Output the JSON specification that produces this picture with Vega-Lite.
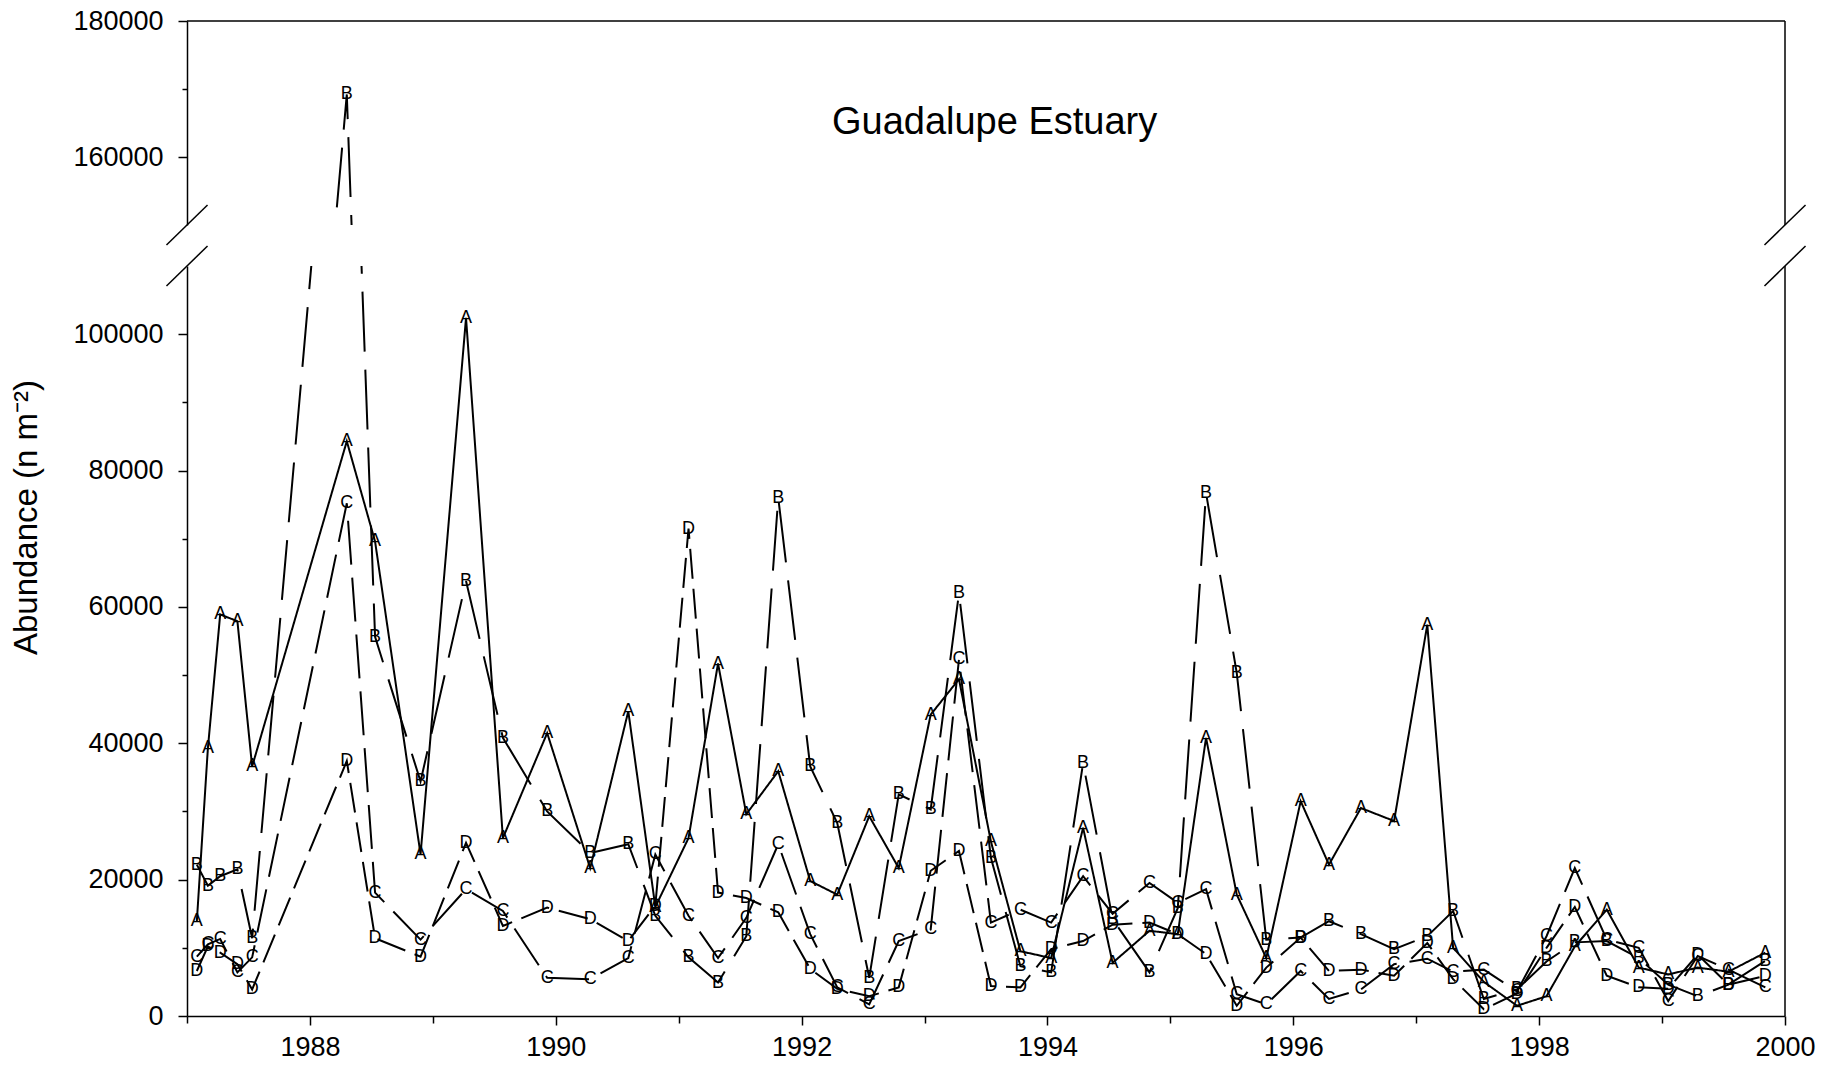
{
 "$schema": "https://vega.github.io/schema/vega-lite/v6.json",
 "background": "white",
 "padding": {"left": 10, "top": 7, "right": 5, "bottom": 5},
 "bounds": "flush",
 "spacing": 41,
 "config": {
  "view": {"stroke": null},
  "axis": {"domainColor": "black", "domainWidth": 1.5, "tickColor": "black", "tickWidth": 1.5, "labelFont": "Liberation Sans", "labelFontSize": 27, "labelColor": "black", "titleFont": "Liberation Sans", "titleFontSize": 33, "titleFontWeight": "normal", "titleColor": "black", "grid": false, "labelFlush": false, "labelOverlap": false}
 },
 "datasets": {
  "pts": [
   {"t":1987.08,"s":"A","v":13900},{"t":1987.17,"s":"A","v":39300},{"t":1987.27,"s":"A","v":58900},{"t":1987.41,"s":"A","v":57900},{"t":1987.53,"s":"A","v":36600},{"t":1988.30,"s":"A","v":84300},{"t":1988.53,"s":"A","v":69600},{"t":1988.90,"s":"A","v":23700},{"t":1989.27,"s":"A","v":102400},{"t":1989.57,"s":"A","v":26100},{"t":1989.93,"s":"A","v":41500},{"t":1990.28,"s":"A","v":21700},{"t":1990.59,"s":"A","v":44700},{"t":1990.81,"s":"A","v":16000},{"t":1991.08,"s":"A","v":26100},{"t":1991.32,"s":"A","v":51700},{"t":1991.55,"s":"A","v":29600},{"t":1991.81,"s":"A","v":35900},{"t":1992.07,"s":"A","v":19800},{"t":1992.29,"s":"A","v":17800},{"t":1992.55,"s":"A","v":29300},{"t":1992.79,"s":"A","v":21700},{"t":1993.05,"s":"A","v":44200},{"t":1993.28,"s":"A","v":49400},{"t":1993.54,"s":"A","v":25600},{"t":1993.78,"s":"A","v":9500},{"t":1994.03,"s":"A","v":8500},{"t":1994.29,"s":"A","v":27600},{"t":1994.53,"s":"A","v":7800},{"t":1994.83,"s":"A","v":12500},{"t":1995.06,"s":"A","v":12000},{"t":1995.29,"s":"A","v":40800},{"t":1995.54,"s":"A","v":17800},{"t":1995.78,"s":"A","v":8500},{"t":1996.06,"s":"A","v":31500},{"t":1996.29,"s":"A","v":22200},{"t":1996.55,"s":"A","v":30500},{"t":1996.82,"s":"A","v":28600},{"t":1997.09,"s":"A","v":57400},{"t":1997.30,"s":"A","v":10000},{"t":1997.55,"s":"A","v":5000},{"t":1997.82,"s":"A","v":1500},{"t":1998.06,"s":"A","v":2900},{"t":1998.29,"s":"A","v":10200},{"t":1998.55,"s":"A","v":15600},{"t":1998.81,"s":"A","v":7100},{"t":1999.05,"s":"A","v":6100},{"t":1999.29,"s":"A","v":7100},{"t":1999.54,"s":"A","v":6500},{"t":1999.84,"s":"A","v":9300},
   {"t":1987.08,"s":"B","v":22200},{"t":1987.17,"s":"B","v":19100},{"t":1987.27,"s":"B","v":20500},{"t":1987.41,"s":"B","v":21500},{"t":1987.53,"s":"B","v":11400},{"t":1988.30,"s":"B","v":169200},{"t":1988.53,"s":"B","v":55600},{"t":1988.90,"s":"B","v":34400},{"t":1989.27,"s":"B","v":63800},{"t":1989.57,"s":"B","v":40800},{"t":1989.93,"s":"B","v":30000},{"t":1990.28,"s":"B","v":23900},{"t":1990.59,"s":"B","v":25200},{"t":1990.81,"s":"B","v":14700},{"t":1991.08,"s":"B","v":8600},{"t":1991.32,"s":"B","v":4900},{"t":1991.55,"s":"B","v":11700},{"t":1991.81,"s":"B","v":76000},{"t":1992.07,"s":"B","v":36600},{"t":1992.29,"s":"B","v":28300},{"t":1992.55,"s":"B","v":5600},{"t":1992.79,"s":"B","v":32500},{"t":1993.05,"s":"B","v":30300},{"t":1993.28,"s":"B","v":62000},{"t":1993.54,"s":"B","v":23200},{"t":1993.78,"s":"B","v":7300},{"t":1994.03,"s":"B","v":6400},{"t":1994.29,"s":"B","v":37100},{"t":1994.53,"s":"B","v":14200},{"t":1994.83,"s":"B","v":6400},{"t":1995.06,"s":"B","v":15800},{"t":1995.29,"s":"B","v":76700},{"t":1995.54,"s":"B","v":50300},{"t":1995.78,"s":"B","v":11200},{"t":1996.06,"s":"B","v":11500},{"t":1996.29,"s":"B","v":13900},{"t":1996.55,"s":"B","v":12000},{"t":1996.82,"s":"B","v":9800},{"t":1997.09,"s":"B","v":11700},{"t":1997.30,"s":"B","v":15400},{"t":1997.55,"s":"B","v":2500},{"t":1997.82,"s":"B","v":3900},{"t":1998.06,"s":"B","v":8000},{"t":1998.29,"s":"B","v":10800},{"t":1998.55,"s":"B","v":11000},{"t":1998.81,"s":"B","v":8500},{"t":1999.05,"s":"B","v":4600},{"t":1999.29,"s":"B","v":2900},{"t":1999.54,"s":"B","v":4600},{"t":1999.84,"s":"B","v":8100},
   {"t":1987.08,"s":"C","v":8700},{"t":1987.17,"s":"C","v":10500},{"t":1987.27,"s":"C","v":11300},{"t":1987.41,"s":"C","v":6400},{"t":1987.53,"s":"C","v":8600},{"t":1988.30,"s":"C","v":75200},{"t":1988.53,"s":"C","v":18100},{"t":1988.90,"s":"C","v":11200},{"t":1989.27,"s":"C","v":18600},{"t":1989.57,"s":"C","v":15400},{"t":1989.93,"s":"C","v":5600},{"t":1990.28,"s":"C","v":5400},{"t":1990.59,"s":"C","v":8500},{"t":1990.81,"s":"C","v":23700},{"t":1991.08,"s":"C","v":14700},{"t":1991.32,"s":"C","v":8500},{"t":1991.55,"s":"C","v":14400},{"t":1991.81,"s":"C","v":25200},{"t":1992.07,"s":"C","v":12000},{"t":1992.29,"s":"C","v":4200},{"t":1992.55,"s":"C","v":1700},{"t":1992.79,"s":"C","v":11000},{"t":1993.05,"s":"C","v":12700},{"t":1993.28,"s":"C","v":52300},{"t":1993.54,"s":"C","v":13700},{"t":1993.78,"s":"C","v":15600},{"t":1994.03,"s":"C","v":13700},{"t":1994.29,"s":"C","v":20500},{"t":1994.53,"s":"C","v":15000},{"t":1994.83,"s":"C","v":19500},{"t":1995.06,"s":"C","v":16600},{"t":1995.29,"s":"C","v":18600},{"t":1995.54,"s":"C","v":3200},{"t":1995.78,"s":"C","v":1700},{"t":1996.06,"s":"C","v":6600},{"t":1996.29,"s":"C","v":2500},{"t":1996.55,"s":"C","v":3900},{"t":1996.82,"s":"C","v":7600},{"t":1997.09,"s":"C","v":8400},{"t":1997.30,"s":"C","v":6500},{"t":1997.55,"s":"C","v":6800},{"t":1997.82,"s":"C","v":3600},{"t":1998.06,"s":"C","v":11700},{"t":1998.29,"s":"C","v":21700},{"t":1998.55,"s":"C","v":11200},{"t":1998.81,"s":"C","v":10000},{"t":1999.05,"s":"C","v":2200},{"t":1999.29,"s":"C","v":8800},{"t":1999.54,"s":"C","v":6800},{"t":1999.84,"s":"C","v":4200},
   {"t":1987.08,"s":"D","v":6600},{"t":1987.17,"s":"D","v":10200},{"t":1987.27,"s":"D","v":9300},{"t":1987.41,"s":"D","v":7600},{"t":1987.53,"s":"D","v":3900},{"t":1988.30,"s":"D","v":37400},{"t":1988.53,"s":"D","v":11400},{"t":1988.90,"s":"D","v":8700},{"t":1989.27,"s":"D","v":25400},{"t":1989.57,"s":"D","v":13200},{"t":1989.93,"s":"D","v":15900},{"t":1990.28,"s":"D","v":14200},{"t":1990.59,"s":"D","v":11000},{"t":1990.81,"s":"D","v":16200},{"t":1991.08,"s":"D","v":71500},{"t":1991.32,"s":"D","v":18100},{"t":1991.55,"s":"D","v":17300},{"t":1991.81,"s":"D","v":15200},{"t":1992.07,"s":"D","v":6900},{"t":1992.29,"s":"D","v":4000},{"t":1992.55,"s":"D","v":2900},{"t":1992.79,"s":"D","v":4200},{"t":1993.05,"s":"D","v":21300},{"t":1993.28,"s":"D","v":24200},{"t":1993.54,"s":"D","v":4400},{"t":1993.78,"s":"D","v":4200},{"t":1994.03,"s":"D","v":9800},{"t":1994.29,"s":"D","v":11000},{"t":1994.53,"s":"D","v":13400},{"t":1994.83,"s":"D","v":13700},{"t":1995.06,"s":"D","v":12000},{"t":1995.29,"s":"D","v":9100},{"t":1995.54,"s":"D","v":1500},{"t":1995.78,"s":"D","v":7100},{"t":1996.06,"s":"D","v":11500},{"t":1996.29,"s":"D","v":6600},{"t":1996.55,"s":"D","v":6800},{"t":1996.82,"s":"D","v":5900},{"t":1997.09,"s":"D","v":10700},{"t":1997.30,"s":"D","v":5400},{"t":1997.55,"s":"D","v":1000},{"t":1997.82,"s":"D","v":3300},{"t":1998.06,"s":"D","v":10000},{"t":1998.29,"s":"D","v":16000},{"t":1998.55,"s":"D","v":5900},{"t":1998.81,"s":"D","v":4200},{"t":1999.05,"s":"D","v":4000},{"t":1999.29,"s":"D","v":9000},{"t":1999.54,"s":"D","v":4600},{"t":1999.84,"s":"D","v":5900}
  ]
 },
 "vconcat": [
  {
   "width": 1598,
   "height": 204,
   "layer": [
    {
     "data": {"name": "pts"},
     "mark": {"type": "line", "clip": true, "strokeWidth": 2, "color": "black"},
     "encoding": {
      "x": {"field": "t", "type": "quantitative", "scale": {"domain": [1987, 2000], "nice": false, "zero": false}, "axis": null},
      "y": {"field": "v", "type": "quantitative", "scale": {"domain": [150000, 180000], "nice": false, "zero": false},
            "axis": {"values": [160000, 170000, 180000], "format": "d", "labelExpr": "datum.value % 20000 === 0 ? datum.label : ''", "tickSize": {"condition": {"test": "datum.value % 20000 === 0", "value": 9}, "value": 5}, "labelPadding": 15, "title": null}},
      "strokeDash": {"field": "s", "type": "nominal", "scale": {"domain": ["A", "B", "C", "D"], "range": [[1, 0], [60, 18], [44, 13], [30, 10]]}, "legend": null}
     }
    },
    {
     "data": {"name": "pts"},
     "transform": [{"filter": "datum.v >= 150000"}],
     "mark": {"type": "text", "fontSize": 18, "font": "Liberation Sans", "color": "black"},
     "encoding": {"x": {"field": "t", "type": "quantitative"}, "y": {"field": "v", "type": "quantitative"}, "text": {"field": "s"}}
    },
    {"data": {"values": [{}]}, "mark": {"type": "rule", "color": "black", "strokeWidth": 1.5}, "encoding": {"y": {"datum": 180000}}},
    {"data": {"values": [{}]}, "mark": {"type": "rule", "color": "black", "strokeWidth": 1.5}, "encoding": {"x": {"datum": 2000}}},
    {"data": {"values": [{}]}, "mark": {"type": "rule", "color": "black", "strokeWidth": 1.5}, "encoding": {"x": {"datum": 1986.833}, "x2": {"datum": 1987.167}, "y": {"datum": 147060}, "y2": {"datum": 152940}}},
    {"data": {"values": [{}]}, "mark": {"type": "rule", "color": "black", "strokeWidth": 1.5}, "encoding": {"x": {"datum": 1999.833}, "x2": {"datum": 2000.167}, "y": {"datum": 147060}, "y2": {"datum": 152940}}},
    {"data": {"values": [{}]}, "mark": {"type": "text", "fontSize": 38, "font": "Liberation Sans", "baseline": "alphabetic", "align": "center", "color": "black"}, "encoding": {"x": {"datum": 1993.57}, "y": {"datum": 163450}, "text": {"value": "Guadalupe Estuary"}}}
   ]
  },
  {
   "width": 1598,
   "height": 750,
   "layer": [
    {
     "data": {"name": "pts"},
     "mark": {"type": "line", "clip": true, "strokeWidth": 2, "color": "black"},
     "encoding": {
      "x": {"field": "t", "type": "quantitative", "scale": {"domain": [1987, 2000], "nice": false, "zero": false},
            "axis": {"values": [1987, 1988, 1989, 1990, 1991, 1992, 1993, 1994, 1995, 1996, 1997, 1998, 1999, 2000], "format": "d", "labelExpr": "datum.value % 2 === 0 ? datum.label : ''", "tickSize": {"condition": {"test": "datum.value % 2 === 0", "value": 9}, "value": 7}, "labelPadding": 9, "title": null}},
      "y": {"field": "v", "type": "quantitative", "scale": {"domain": [0, 110000], "nice": false},
            "axis": {"values": [0, 10000, 20000, 30000, 40000, 50000, 60000, 70000, 80000, 90000, 100000], "format": "d", "labelExpr": "datum.value % 20000 === 0 ? datum.label : ''", "tickSize": {"condition": {"test": "datum.value % 20000 === 0", "value": 9}, "value": 5}, "labelPadding": 15, "title": "Abundance (n m⁻²)", "titleY": 251, "titlePadding": 29}},
      "strokeDash": {"field": "s", "type": "nominal", "scale": {"domain": ["A", "B", "C", "D"], "range": [[1, 0], [60, 18], [44, 13], [30, 10]]}, "legend": null}
     }
    },
    {
     "data": {"name": "pts"},
     "transform": [{"filter": "datum.v <= 110000"}],
     "mark": {"type": "text", "fontSize": 18, "font": "Liberation Sans", "color": "black"},
     "encoding": {"x": {"field": "t", "type": "quantitative"}, "y": {"field": "v", "type": "quantitative"}, "text": {"field": "s"}}
    },
    {"data": {"values": [{}]}, "mark": {"type": "rule", "color": "black", "strokeWidth": 1.5}, "encoding": {"x": {"datum": 2000}}},
    {"data": {"values": [{}]}, "mark": {"type": "rule", "color": "black", "strokeWidth": 1.5}, "encoding": {"x": {"datum": 1986.833}, "x2": {"datum": 1987.167}, "y": {"datum": 107067}, "y2": {"datum": 112933}}},
    {"data": {"values": [{}]}, "mark": {"type": "rule", "color": "black", "strokeWidth": 1.5}, "encoding": {"x": {"datum": 1999.833}, "x2": {"datum": 2000.167}, "y": {"datum": 107067}, "y2": {"datum": 112933}}}
   ]
  }
 ]
}
